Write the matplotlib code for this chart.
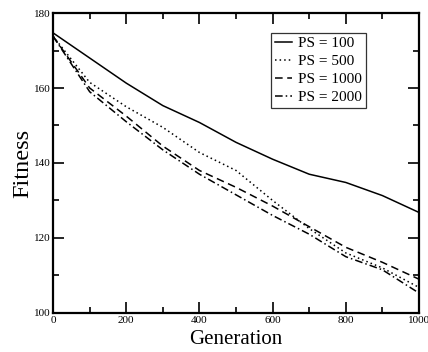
import matplotlib.pyplot as plt
from matplotlib.ticker import MultipleLocator

# values
generation = [0, 100, 200, 300, 400, 500, 600, 700, 800, 900, 1000]
ps100 = [174.7, 168.0, 161.3, 155.3, 150.8, 145.5, 141.0, 137.0, 134.8, 131.3, 126.8]
ps500 = [173.8, 161.5, 155.0, 149.5, 142.8, 138.0, 130.0, 122.5, 116.0, 112.0, 106.8]
ps1000 = [173.8, 160.0, 152.5, 144.5, 138.0, 133.5, 128.5, 123.0, 117.5, 113.5, 109.0]
ps2000 = [173.8, 159.0, 151.0, 143.5, 137.0, 131.5, 126.0, 121.0, 115.0, 111.5, 105.3]
labels = ['PS = 100', 'PS = 500', 'PS = 1000', 'PS = 2000']

plt.rcParams['font.family'] = ['Liberation Serif', 'DejaVu Serif']

fig = plt.figure(figsize=(4.28, 3.52), dpi=100)
ax = fig.add_axes([0.124, 0.111, 0.855, 0.852])

ax.plot(generation, ps100, color='black', lw=1.1, linestyle='-', label=labels[0])
ax.plot(generation, ps500, color='black', lw=1.1, linestyle=(0, (1, 2)), label=labels[1])
ax.plot(generation, ps1000, color='black', lw=1.1, linestyle=(0, (5, 3)), label=labels[2])
ax.plot(generation, ps2000, color='black', lw=1.1, linestyle=(0, (5, 2, 1, 2)), label=labels[3])

ax.set_xlim(0, 1000)
ax.set_ylim(100, 180)
ax.xaxis.set_major_locator(MultipleLocator(200))
ax.xaxis.set_minor_locator(MultipleLocator(100))
ax.yaxis.set_major_locator(MultipleLocator(20))
ax.yaxis.set_minor_locator(MultipleLocator(10))
ax.tick_params(which='both', direction='in', top=True, right=True, width=1.2, labelsize=8, pad=2)
ax.tick_params(which='major', length=8)
ax.tick_params(which='minor', length=4.5)
for s in ax.spines.values():
    s.set_linewidth(1.6)

ax.set_xlabel('Generation', fontsize=15, labelpad=4)
ax.set_ylabel('Fitness', fontsize=17.5, labelpad=0)

leg = ax.legend(loc='upper right', bbox_to_anchor=(0.855, 0.935), fontsize=11, frameon=True,
                fancybox=False, edgecolor='black', handlelength=1.15, handletextpad=0.4,
                labelspacing=0.28, borderpad=0.25, borderaxespad=0)
leg.get_frame().set_linewidth(0.9)

fig.savefig('out.png', dpi=100)
